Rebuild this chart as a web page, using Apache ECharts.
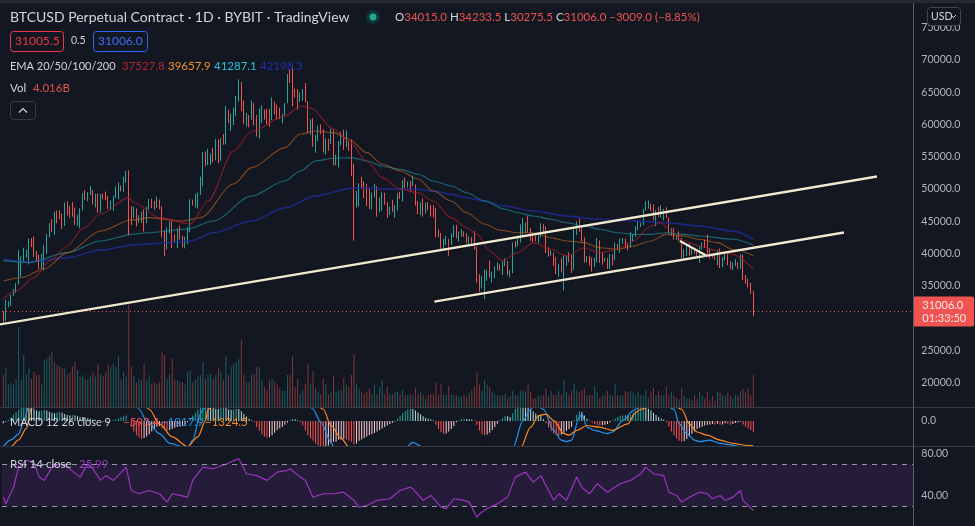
<!DOCTYPE html>
<html><head><meta charset="utf-8">
<script src="https://cdn.jsdelivr.net/npm/echarts@6/dist/echarts.min.js"></script>
<style>html,body{margin:0;padding:0;background:#131722;}#c{width:975px;height:526px;}</style>
</head><body><div id="c"></div>
<script>
// ---------- DATA ----------
const startDate = '2021-07-20';
const firstOpen = 30840;
const bidPrice = 31005.5;
const closes = [
29790,32140,32290,33600,34270,35400,37300,39460,40000,40010,42240,41630,
39970,39200,38150,39740,40870,42830,44600,43800,46280,45600,45590,44430,47800,47100,47050,46000,44700,44800,46720,49340,48870,49290,49510,47700,48990,46840,49060,48900,48810,46990,47160,
48850,49280,50030,49940,51770,52660,46860,46090,46400,44850,45160,46060,44960,47090,48170,47780,47310,48300,47260,43010,40700,43570,44880,42840,42720,43210,42230,41030,41520,43790,
48120,47710,48200,49110,51510,55360,53800,53950,54970,54660,57480,56040,57400,57320,61670,60880,61530,62010,64280,66000,62210,60690,61290,60860,63080,60330,58450,60620,62230,61880,61320,
61000,63220,62970,61450,61010,61530,63330,67550,66970,64950,64930,64160,64470,65470,63560,60160,60370,56940,58120,59740,58710,56300,57570,57160,58960,53730,54720,57270,57810,56950,
57200,56500,53600,49200,49400,50580,50570,50470,47540,47150,49390,50050,46700,48340,48860,47640,46200,46850,46680,46900,48940,48630,50820,50430,50800,50640,50700,47540,46460,47120,46200,
47690,47300,46430,45830,43420,43080,41550,41680,41860,41820,42740,43920,42590,43100,43180,43110,42250,42380,41660,40680,36450,35070,36280,36650,36950,36840,37140,37720,38170,37920,38480,
38740,36950,37080,41570,41380,42410,43840,44040,44370,43560,42400,42200,42080,42550,44580,43960,40540,40000,40120,38400,37020,38250,37260,38330,39220,39100,37710,43190,
44420,43920,42450,39140,39400,38420,38060,38740,41980,39440,38730,38820,37800,39670,39340,41140,40950,41800,42190,41250,41080,42360,42890,43960,44350,44500,46820,47130,47470,47070,45530,
46300,45810,46410,46620,45560,43200,43450,42250,42770,42160,39530,40080,41150,39940,40550,40400,39690,40830,41500,41380,40480,39710,39470,39450,40430,38120,39240,39740,38600,37630,
38470,38530,37750,39700,36550,36010,35470,34015,31006];
const highs = [
31040,32800,32600,33600,34480,35400,40550,39550,40900,40600,42300,42400,
42600,40400,39780,39950,41350,43000,44700,45300,46450,46650,46700,46200,47900,48100,47400,48000,47150,46000,47000,49350,49800,49500,50500,49850,49250,49300,49200,49300,49600,48900,48200,
48950,50400,51000,50550,51900,52800,52900,47350,47300,47000,45950,46450,46850,47250,48450,48500,48150,48800,48350,47300,43600,44000,44950,45100,42950,43900,44300,42750,42600,44100,
48400,48350,49250,49450,51900,55700,55800,56200,55450,56400,57700,57650,57850,58500,62850,62300,61650,62600,64400,67000,66600,63700,61750,61450,63700,63300,61450,62450,62950,62300,62400,
62400,64200,63500,63050,62600,61600,63300,67800,68500,69000,65550,65450,65000,65500,66400,63600,60800,60950,58400,59800,60000,59250,57850,57750,59350,59250,55300,57400,58850,59200,
59100,57400,57600,53900,49700,50900,51900,51200,50800,50100,49450,50750,50400,48650,49500,49400,48000,47300,48300,47500,49300,49550,51350,51800,51150,51250,52050,50700,48150,47900,48550,
47900,47950,47550,47500,47050,43750,43150,42300,42750,42250,43100,44350,44400,43400,43750,43450,43150,42650,42550,43450,41050,36800,36500,37500,37500,38900,37200,38000,38650,38300,38750,
39250,38850,37400,41700,41900,42650,44500,45500,44800,45800,43900,43000,42750,42850,44700,44550,44150,40950,40450,40150,39450,38400,39250,39800,39700,40200,39800,44200,
44950,45400,44100,42500,39600,39650,39400,39350,42400,42050,40200,39300,39300,39900,39900,41700,41450,42300,42400,42300,41550,43350,43000,44200,45100,44800,46900,48100,48200,47700,47600,
46700,47200,47450,46900,47150,45550,43900,43950,42800,43400,42400,40650,41500,41550,40850,40700,40600,41100,41700,42150,42950,40800,39950,39900,40600,40750,39450,40350,39900,38800,
38650,39150,38650,39900,39800,36650,36100,35500,34233.5];
const lows = [
29300,29500,31700,31900,33400,33880,35200,36400,38800,39300,38300,41000,
39450,38700,37600,37500,37400,39900,42500,43300,42850,44700,45350,43800,44250,45900,45500,45700,44400,44250,43900,46650,48300,48100,49050,47600,47150,46300,46400,48400,48300,46900,46700,
46600,48600,48400,49600,49500,50950,42800,44400,45500,44200,44750,44750,43400,44700,46750,47050,46800,47050,46850,42500,39600,40600,43100,40800,41700,40800,42150,40950,40800,41450,
43300,47450,47150,46950,49050,50450,53500,53700,53700,54150,54450,54000,54350,56850,56900,60200,58950,59900,61350,63500,62100,60050,59700,59550,60700,59850,58100,57800,60200,60750,60050,
59600,60650,61600,60750,60800,60150,61350,63250,66400,62800,64150,62300,63500,63650,63450,58600,58400,56500,55600,57450,58500,55650,55300,55900,56950,53600,53700,53350,56750,56050,
56500,55900,52000,42000,47100,47300,50100,48600,47350,46900,46800,48700,45700,46350,46600,47550,45500,45950,46450,45550,46650,48450,48050,50150,50200,49500,50450,47400,46100,45950,45700,
46200,46700,45700,45550,42500,42500,40650,40500,41300,39650,41300,42500,42350,41850,42600,42600,41600,41300,41200,40600,35500,34050,34600,32950,35750,36300,35550,36200,37400,37350,36650,
38050,36650,36300,36950,40950,41150,41700,42700,43200,43200,42000,41800,41900,41600,42450,43350,40100,39500,39650,38050,36800,36400,37050,34300,38050,38650,37000,37450,
42850,43350,41850,38600,38600,38100,37200,37900,38650,38550,38250,38700,37600,37600,38150,38950,40550,40150,41500,40950,40500,40900,41800,42550,43600,44100,44400,46650,46950,46600,45200,
44250,45650,45550,45150,45500,43150,42750,42150,42150,41900,39250,39250,39600,39600,39800,40000,39600,38550,40600,40850,39800,39200,39300,39000,38200,37750,37900,38900,38200,37600,
37400,38050,37550,37650,35850,35300,34750,33750,30275.5];
// volume, billions
const volumes = [
4.0,4.9,2.8,3.0,2.8,3.5,10.0,3.4,6.5,4.1,4.8,3.5,4.4,4.0,4.0,2.8,5.9,6.1,6.4,6.9,
5.6,5.3,5.1,4.8,4.8,4.1,4.3,5.1,5.6,4.6,3.8,4.0,3.5,3.4,3.8,4.4,3.8,5.3,4.1,3.8,
4.4,5.3,5.0,5.4,5.0,6.3,3.5,4.4,3.8,12.8,5.0,3.8,3.1,3.5,3.4,5.4,3.4,4.0,2.9,3.1,
2.9,3.1,6.9,6.5,3.5,4.1,6.0,3.4,3.3,3.1,3.1,2.8,4.4,4.6,3.1,3.4,3.8,4.0,5.6,3.5,
4.0,4.1,3.5,4.0,4.8,4.4,3.4,6.3,4.0,5.0,5.4,5.6,6.0,8.4,4.0,3.1,
3.1,4.0,4.1,5.0,4.9,3.3,2.5,2.1,3.4,3.5,3.1,2.8,2.3,2.0,2.0,4.0,4.0,6.3,2.5,3.5,
1.6,2.1,2.9,5.4,2.9,4.5,2.3,1.9,1.6,3.5,2.8,1.6,1.9,3.9,1.9,2.1,2.1,3.6,2.8,2.5,
4.0,6.6,2.9,2.3,1.9,1.6,1.9,2.3,1.6,2.8,1.6,2.5,3.3,1.6,2.5,1.6,1.6,1.9,1.9,1.6,
2.1,1.5,1.5,1.6,1.5,2.4,1.6,1.9,1.5,1.0,1.5,1.6,1.6,3.1,1.5,2.8,1.5,1.5,2.6,1.5,
1.5,1.5,1.3,1.3,1.5,1.3,1.8,2.1,2.5,4.4,2.8,2.1,3.3,2.8,2.5,1.9,1.6,1.5,
1.4,1.5,1.6,1.1,1.4,2.0,1.5,1.4,2.0,2.1,1.9,2.8,1.9,1.1,1.1,1.4,1.4,1.5,2.3,1.3,
2.0,1.5,1.5,2.0,1.5,3.4,1.9,1.5,2.0,2.9,2.0,1.8,2.1,2.3,1.4,1.5,1.5,2.6,1.8,1.1,
1.4,1.5,2.0,1.5,1.4,2.8,1.5,1.4,1.5,2.0,1.8,2.0,1.8,1.5,1.9,1.5,1.4,2.1,1.1,2.0,
2.4,1.5,2.0,1.5,1.4,2.6,1.5,1.9,1.4,1.1,0.9,2.4,1.4,1.1,1.0,0.8,1.4,1.0,1.9,1.4,
1.1,1.9,0.8,1.4,0.8,1.9,1.8,1.5,1.4,1.8,1.4,1.1,1.5,1.4,2.0,2.3,1.8,2.3,1.5,4.016];
// MACD histogram per day
const macdHist = [
-120,-40,60,
200,350,480,600,700,760,780,760,700,
640,560,520,560,600,560,500,440,420,460,480,440,380,320,300,320,300,260,220,
200,180,150,120,80,40,0,-40,-60,-40,-20,20,60,100,140,200,260,300,
0,-300,-560,-760,-880,-940,-900,-820,-700,-560,-420,-300,
-260,-380,-460,-500,-480,-420,-360,-320,-300,-260,-180,-60,140,
300,460,600,720,800,820,780,720,700,660,640,700,740,700,620,600,620,
660,640,520,380,240,120,40,-80,
-300,-500,-700,-820,-880,-860,-760,-620,-480,-380,-300,-200,-80,
60,120,100,40,
-60,-230,-500,-760,-920,-1050,-1200,-1300,-1380,-1400,-1380,
-1300,-1200,-1100,-1100,-1000,-980,-960,-1000,-1050,-1100,-1250,-1200,-1050,
-980,-900,-820,-760,-700,-640,-560,-480,-400,-320,-240,-160,-90,-40,
120,280,420,540,620,650,640,560,460,360,260,180,120,80,40,
-200,-420,-600,-680,-660,-560,-420,-260,
-60,60,100,120,110,100,80,30,-200,
-500,-700,-760,-720,-620,-480,-320,-140,
60,180,280,260,220,
420,640,760,820,800,760,700,620,520,400,300,260,
100,-120,-360,-540,-680,-760,-780,-720,-620,-520,-420,-300,
60,320,520,480,300,
120,20,-80,-160,-220,-240,-220,-200,-150,
-60,40,140,220,280,300,320,300,320,
420,520,620,700,760,740,660,560,440,320,220,
140,80,
-60,-300,-560,-760,-920,-1050,-1100,-1060,-960,-820,-680,-540,
-420,-360,-300,-240,
-200,-180,-160,-180,-140,-200,-180,-120,-140,-200,-160,-100,-80,
-40,-180,-300,-400,-480,-593.4];
// [day, value] readings of the indicator lines
const macdLine = [[0,-1362],[3,-1000],[6,-700],[8,0],[10,800],[16,1300],[22,1900],[30,2400],[38,2300],[44,2000],[48,2200],[50,1500],[53,634],[56,26],[61,-666],[65,-1186],[72,-1446],[74,-1014],[77,374],[78,634],[82,1300],[90,2800],[96,3300],[104,2700],[112,2200],[116,2000],[121,634],[124,-62],[128,-1102],[129,-1378],[133,-1800],[140,-2600],[148,-2600],[155,-1800],[160,-1134],[164,-1400],[170,-1600],[176,-1900],[182,-1700],[188,-2300],[194,-2300],[199,-1446],[203,26],[206,634],[208,900],[211,634],[215,-494],[218,-1014],[220,-1102],[222,-1014],[225,198],[226,374],[228,-322],[231,-494],[236,-666],[238,-582],[242,26],[246,546],[247,634],[252,1100],[257,1000],[262,634],[264,-146],[267,-666],[270,-1014],[272,-1102],[276,-1014],[280,-1186],[284,-1270],[288,-1362],[289,-1446],[293,-1917.9]];
const signalLine = [[0,-1650],[3,-1362],[6,-1000],[9,-400],[11,700],[16,900],[22,1400],[30,1900],[38,2200],[44,2050],[50,2000],[57,634],[61,-146],[66,-842],[72,-1362],[76,-842],[79,26],[80,634],[85,1300],[92,2300],[100,2900],[108,2700],[116,2300],[125,634],[128,-234],[132,-926],[135,-1378],[142,-2100],[150,-2400],[158,-2000],[165,-1600],[172,-1600],[180,-1700],[188,-1900],[196,-2100],[202,-1446],[206,-322],[209,286],[212,374],[215,26],[219,-666],[221,-754],[224,-494],[228,-234],[233,-322],[238,-494],[244,-146],[247,458],[249,634],[255,900],[261,900],[265,634],[268,-146],[271,-582],[275,-754],[280,-1014],[285,-1186],[290,-1290],[293,-1324.5]];
const rsiLine = [[0,38.7],[1,32.4],[4,48],[6,67],[9,73.4],[12,71.8],[14,57.6],[16,54.5],[19,67],[22,70],[25,67],[30,57.6],[33,70],[35,65.5],[38,54.5],[40,59],[43,54.5],[48,67],[50,45],[53,41.9],[57,45],[61,41.9],[64,34],[66,41.9],[69,40.3],[72,38.7],[74,54.5],[78,67],[82,65.5],[87,70],[92,75],[95,60.8],[99,59],[103,54.5],[107,62.3],[111,64],[112,65.5],[116,57.6],[118,54.5],[121,38.7],[125,41.9],[129,41.9],[133,43.4],[137,35.6],[139,29.2],[142,30.8],[146,35.6],[151,37.2],[155,45],[159,48.1],[160,46.6],[164,35.6],[167,40.3],[171,29.2],[173,27.7],[176,37.2],[180,35.6],[182,34],[185,19.8],[186,23],[189,27.7],[193,32.4],[197,38.7],[200,57.6],[204,62.3],[207,52.9],[210,59],[212,49.7],[215,35.6],[217,41.9],[220,35.6],[224,57.6],[226,48.1],[229,41.9],[232,51.3],[236,43.4],[238,46.6],[241,51.3],[245,54.5],[249,60.8],[251,67],[254,60.8],[258,59],[260,43.4],[263,40.3],[265,34],[268,38.7],[272,43.4],[275,41.9],[277,37.2],[280,40.3],[282,35.6],[285,38.7],[288,45],[289,35.6],[291,30.8],[293,25.99]];
const ema20 = [[0,32950],[5,34190],[12,36250],[18,38840],[25,41160],[31,43800],[38,46120],[49,48650],[51,47870],[61,45550],[73,44570],[80,48130],[90,55880],[97,58900],[110,61300],[116,62850],[120,62590],[129,59290],[135,57430],[142,54330],[148,51750],[155,49990],[162,49420],[168,48130],[175,45550],[181,44000],[185,43020],[190,40390],[195,38900],[201,40130],[207,41680],[214,40650],[220,39610],[227,40900],[233,40130],[240,40650],[246,41940],[253,44260],[257,44770],[259,44000],[266,41940],[272,41160],[279,40390],[285,39870],[293,37527.8]];
const ema50 = [[0,35740],[7,36250],[16,37600],[25,40130],[38,43490],[50,45190],[57,45550],[70,45030],[77,45550],[90,50770],[97,53300],[110,56400],[116,58510],[122,58980],[129,58720],[135,57740],[142,55620],[148,53870],[155,52780],[162,51540],[168,49680],[175,48130],[181,46320],[188,44570],[194,43600],[201,43220],[207,43220],[214,42450],[220,41940],[227,41680],[233,40900],[240,40650],[246,41160],[253,41940],[259,42970],[266,42710],[272,42200],[279,41680],[285,40650],[293,39657.9]];
const ema100 = [[0,38900],[10,38600],[25,40130],[38,41940],[51,43000],[56,43220],[72,43770],[82,45030],[97,48900],[110,51230],[116,52780],[122,54330],[129,54750],[136,54850],[142,54330],[148,53560],[155,53040],[162,52310],[168,51230],[175,50460],[181,49420],[188,48130],[196,46850],[201,46320],[207,45810],[214,45300],[220,44770],[227,44260],[233,43750],[240,43220],[246,42970],[253,42970],[259,43220],[266,42970],[272,42710],[285,42200],[293,41287.1]];
const ema200 = [[0,39150],[10,38700],[25,39350],[38,40540],[51,41320],[64,41670],[73,41940],[82,43220],[97,45030],[110,47100],[122,48910],[136,50100],[142,50200],[149,49940],[162,49940],[168,49680],[175,49170],[181,48650],[188,48130],[195,47400],[207,46580],[220,45810],[233,45300],[246,45030],[259,44770],[272,44260],[285,43490],[293,42198.3]];
// drawn trend lines: [day, price] end points
const channelUpper = [[-1.28,29032],[341.3,51929]];
const channelLower = [[168.4,32533],[328.4,43253]];
const wedgeLine = [[264.3,41936],[274.9,39613]];
// axis tick labels
const priceTicks = [20000,25000,35000,40000,45000,50000,55000,60000,65000,70000,75000];
const macdTicks = [0];
const rsiTicks = [40,80];
const rsiBands = [30,70];
const countdown = '01:33:50';

// ---------- BUILD ----------
const SLOTS = 356;
const N = closes.length;
const opens = closes.map((c,i)=> i===0 ? firstOpen : closes[i-1]);
const cats = [];
const d0 = new Date(startDate+'T00:00:00Z');
for (let i=0;i<SLOTS;i++){ cats.push(new Date(d0.getTime()+i*86400000).toISOString().slice(0,10)); }
const UP='#26a69a', DOWN='#ef5350';
const candle = closes.map((c,i)=>[opens[i], c, lows[i], highs[i]]);
const volData = volumes.map((v,i)=>({value:v, itemStyle:{color: closes[i]>=opens[i] ? 'rgba(38,166,154,0.5)' : 'rgba(239,83,80,0.5)'}}));
const histData = macdHist.map((h,i)=>{
  const p = i ? macdHist[i-1] : h;
  let col;
  if (h>=0) col = h>=p ? '#26a69a' : '#b2dfdb';
  else col = h<p ? '#ff5252' : '#ffcdd2';
  return {value:h, itemStyle:{color:col}};
});
const last = N-1;
const lastOf = a => a[a.length-1][1];
const f1 = v => v.toFixed(1).replace('-', '\u2212');
const chg = closes[last]-opens[last];
const pct = chg/opens[last]*100;
const FONT = 'Lato';
const GL = 2, GR = 975 - (GL + SLOTS*2.56);

function T(x,y,text,fill,size,extra){
  return {type:'text', x:x, y:y, z:100, silent:true,
    style:Object.assign({text:text, fill:fill, fontSize:size||11.5, fontFamily:FONT, align:'left', verticalAlign:'middle'}, extra||{})};
}
const lineSeries = (data, color, width, extra) => Object.assign({
  type:'line', xAxisIndex:1, yAxisIndex:0, data:data, symbol:'none', silent:true,
  smooth:0.3, smoothMonotone:'x', lineStyle:{color:color, width:width||1.1}, z:4
}, extra||{});
const trend = data => ({type:'line', xAxisIndex:1, yAxisIndex:0, data:data, symbol:'none', silent:true, clip:false, z:6,
  lineStyle:{color:'#efe9d2', width:2.3, shadowColor:'rgba(0,0,0,0.7)', shadowBlur:2}});

const axisLbl = (fmt) => ({color:'#b2b5be', fontSize:10.5, fontFamily:FONT, margin:8, formatter:fmt});

const option = {
  backgroundColor:'#131722',
  animation:false,
  textStyle:{fontFamily:FONT},
  grid:[
    {left:GL, right:GR, top:6, height:401},
    {left:GL, right:GR, top:207, height:200},
    {left:GL, right:GR, top:408, height:38},
    {left:GL, right:GR, top:447, height:79}
  ],
  xAxis:[
    {type:'category', gridIndex:0, data:cats, show:false, boundaryGap:true},
    {type:'value', gridIndex:0, min:-0.5, max:SLOTS-0.5, show:false},
    {type:'category', gridIndex:1, data:cats, show:false, boundaryGap:true},
    {type:'category', gridIndex:2, data:cats, show:false, boundaryGap:true},
    {type:'value', gridIndex:2, min:-0.5, max:SLOTS-0.5, show:false},
    {type:'value', gridIndex:3, min:-0.5, max:SLOTS-0.5, show:false}
  ],
  yAxis:[
    {type:'value', gridIndex:0, position:'right', min:16220, max:78342,
      axisLine:{show:false}, axisTick:{show:false}, splitLine:{show:false},
      axisLabel:Object.assign(axisLbl(v=>v.toFixed(1)), {customValues:priceTicks})},
    {type:'value', gridIndex:1, min:0, max:25, show:false},
    {type:'value', gridIndex:2, position:'right', min:-1330, max:700,
      axisLine:{show:false}, axisTick:{show:false}, splitLine:{show:false},
      axisLabel:Object.assign(axisLbl(v=>v.toFixed(1)), {customValues:macdTicks})},
    {type:'value', gridIndex:3, position:'right', min:11.5, max:86,
      axisLine:{show:false}, axisTick:{show:false}, splitLine:{show:false},
      axisLabel:Object.assign(axisLbl(v=>v.toFixed(2)), {customValues:rsiTicks})}
  ],
  series:[
    {type:'bar', xAxisIndex:2, yAxisIndex:1, data:volData, barWidth:1, silent:true, z:1},
    {type:'candlestick', xAxisIndex:0, yAxisIndex:0, data:candle, barWidth:1, silent:true, z:3,
      itemStyle:{color:UP, color0:DOWN, borderColor:UP, borderColor0:DOWN, borderWidth:1},
      markLine:{symbol:'none', silent:true, animation:false,
        lineStyle:{color:'#f05350', type:[1,3], width:1},
        label:{position:'end', distance:0, formatter:()=>closes[last].toFixed(1)+'\n'+countdown,
          backgroundColor:'#f05350', color:'#ffe9ea', fontSize:11, fontFamily:FONT, lineHeight:13,
          padding:[2,8,2,9], borderRadius:2},
        data:[{yAxis:closes[last]}]}},
    lineSeries(ema200, 'rgba(30,45,160,0.8)', 1.5),
    lineSeries(ema100, 'rgba(30,140,155,0.7)'),
    lineSeries(ema50, 'rgba(190,100,30,0.65)'),
    lineSeries(ema20, 'rgba(160,30,40,0.8)'),
    trend(channelUpper),
    trend(channelLower),
    trend(wedgeLine),
    {type:'bar', xAxisIndex:3, yAxisIndex:2, data:histData, barWidth:1, silent:true, z:2},
    {type:'line', xAxisIndex:4, yAxisIndex:2, data:macdLine, symbol:'none', silent:true, smooth:0.3, smoothMonotone:'x',
      lineStyle:{color:'#2196f3', width:1.2}, z:3},
    {type:'line', xAxisIndex:4, yAxisIndex:2, data:signalLine, symbol:'none', silent:true, smooth:0.3, smoothMonotone:'x',
      lineStyle:{color:'#ff8a1f', width:1.2}, z:3},
    {type:'line', xAxisIndex:5, yAxisIndex:3, data:rsiLine, symbol:'none', silent:true,
      lineStyle:{color:'#9a35bd', width:1.2}, z:3,
      markArea:{silent:true, itemStyle:{color:'rgba(140,60,200,0.15)'}, data:[[{yAxis:rsiBands[0]},{yAxis:rsiBands[1]}]]},
      markLine:{symbol:'none', silent:true, label:{show:false},
        lineStyle:{color:'#9598a1', type:[5,5], width:1},
        data:[{yAxis:rsiBands[0]},{yAxis:rsiBands[1]}]}}
  ],
  graphic:[
    {type:'rect', z:90, silent:true, shape:{x:0,y:0,width:975,height:3}, style:{fill:'#252934'}},
    {type:'line', z:90, silent:true, shape:{x1:0,y1:407.5,x2:975,y2:407.5}, style:{stroke:'#363a45', lineWidth:1}},
    {type:'line', z:90, silent:true, shape:{x1:0,y1:446.5,x2:975,y2:446.5}, style:{stroke:'#363a45', lineWidth:1}},
    {type:'line', z:90, silent:true, shape:{x1:913.5,y1:3,x2:913.5,y2:526}, style:{stroke:'#5a5e69', lineWidth:1}},
    T(10,17,'BTCUSD Perpetual Contract \u00b7 1D \u00b7 BYBIT \u00b7 TradingView','#d1d4dc',14),
    {type:'circle', z:100, silent:true, shape:{cx:373,cy:17,r:7}, style:{fill:'rgba(8,153,129,0.22)'}},
    {type:'circle', z:101, silent:true, shape:{cx:373,cy:17,r:3.5}, style:{fill:'#22ab94'}},
    {type:'text', x:395, y:17, z:100, silent:true, style:{
      text:'{l|O}{v|'+f1(opens[last])+'} {l|H}{v|'+f1(highs[last])+'} {l|L}{v|'+f1(lows[last])+'} {l|C}{v|'+f1(closes[last])+'} {v|'+f1(chg)+' ('+pct.toFixed(2).replace('-','\u2212')+'%)}',
      verticalAlign:'middle', align:'left', fontSize:11.5, fontFamily:FONT,
      rich:{l:{fill:'#d1d4dc', fontSize:11.5, fontFamily:FONT}, v:{fill:'#ef5350', fontSize:11.5, fontFamily:FONT}}}},
    {type:'rect', z:100, silent:true, shape:{x:10.5,y:31.5,width:53,height:20,r:3}, style:{fill:'none', stroke:'#f23645', lineWidth:1}},
    T(15,41.5,bidPrice.toFixed(1),'#f23645',12),
    T(71,41,(closes[last]-bidPrice).toFixed(1),'#d1d4dc',10.5),
    {type:'rect', z:100, silent:true, shape:{x:93.5,y:31.5,width:54,height:20,r:3}, style:{fill:'none', stroke:'#2962ff', lineWidth:1}},
    T(98,41.5,closes[last].toFixed(1),'#3d6ff5',12),
    T(10,66,'EMA 20/50/100/200','#d1d4dc',11),
    T(122,66,lastOf(ema20).toFixed(1),'#b3242c',11.5),
    T(168,66,lastOf(ema50).toFixed(1),'#f0902a',11.5),
    T(214,66,lastOf(ema100).toFixed(1),'#25c4d8',11.5),
    T(260,66,lastOf(ema200).toFixed(1),'#1f32b0',11.5),
    T(10,88,'Vol','#d1d4dc',11.5),
    T(33,88,volumes[last].toFixed(3)+'B','#e0514f',11.5),
    {type:'rect', z:100, silent:true, shape:{x:10.5,y:101.5,width:25,height:18,r:3}, style:{fill:'#131722', stroke:'#363a45', lineWidth:1}},
    {type:'polyline', z:101, silent:true, shape:{points:[[19,112.5],[23,108.5],[27,112.5]]}, style:{fill:null, stroke:'#d1d4dc', lineWidth:1.2}},
    {type:'rect', z:100, silent:true, shape:{x:927.5,y:7.5,width:33,height:18,r:3}, style:{fill:'#131722', stroke:'#434651', lineWidth:1}},
    T(931,16.5,'USD','#d1d4dc',10.5),
    {type:'polyline', z:101, silent:true, shape:{points:[[951,15],[953.5,17.5],[956,15]]}, style:{fill:null, stroke:'#d1d4dc', lineWidth:1}},
    T(10,422,'MACD 12 26 close 9','#d1d4dc',11),
    T(123,422,f1(macdHist[last]),'#ef5350',11.5),
    T(161,422,f1(lastOf(macdLine)),'#2196f3',11.5),
    T(205,422,f1(lastOf(signalLine)),'#ff8a1f',11.5),
    T(10,464,'RSI 14 close','#d1d4dc',11.5),
    T(79,464,lastOf(rsiLine).toFixed(2),'#9c3fc0',11.5)
  ]
};
const chart = echarts.init(document.getElementById('c'));
chart.setOption(option);
</script>
</body></html>
